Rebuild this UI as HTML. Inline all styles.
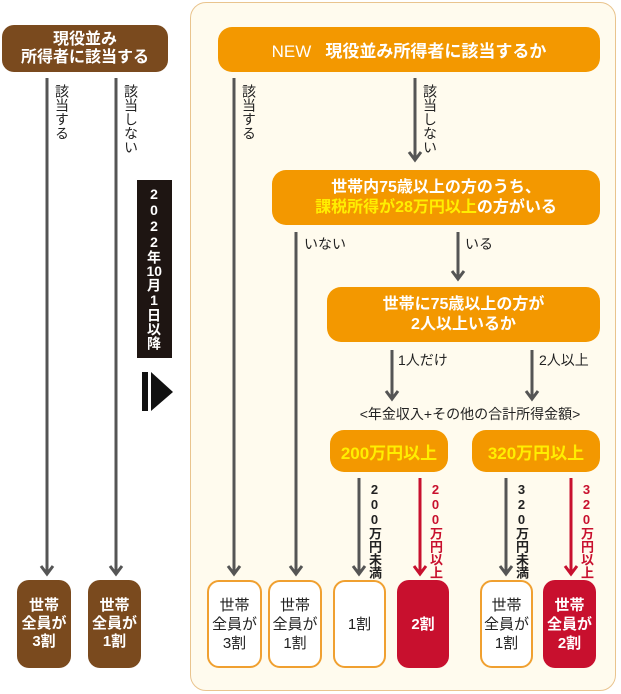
<!DOCTYPE html>
<html><head><meta charset="utf-8"><style>
body{margin:0;width:621px;height:694px;background:#fff;position:relative;overflow:hidden;font-family:"Liberation Sans","Noto Sans CJK JP",sans-serif;}
.a{position:absolute;box-sizing:border-box;}
.box{position:absolute;box-sizing:border-box;display:flex;align-items:center;justify-content:center;text-align:center;font-weight:bold;color:#fff;}
.or{background:#f39800;border-radius:14px;}
.br{background:#7a4a1e;border-radius:12px;font-size:15px;line-height:18px;}
.wh{background:#fff;border:2.5px solid #f0a030;border-radius:12px;color:#222;font-size:15px;line-height:19px;}
.rd{background:#c8102e;border-radius:12px;color:#fff;font-size:15px;line-height:19px;}
.v{position:absolute;writing-mode:vertical-rl;text-orientation:upright;font-size:14px;line-height:16px;color:#222;}
.t{position:absolute;font-size:13px;color:#222;}
.y{color:#ffee00;}
</style></head><body>
<div class="a" style="left:190px;top:2px;width:426px;height:689px;background:#fffbee;border:1.5px solid #e9c48e;border-radius:16px;"></div>
<svg class="a" style="left:0;top:0" width="621" height="694">
<g stroke="#555" stroke-width="3" fill="none">
<path d="M47 78 V574 M41 566 L47 574 L53 566"/>
<path d="M116 78 V574 M110 566 L116 574 L122 566"/>
<path d="M234 78 V574 M228 566 L234 574 L240 566"/>
<path d="M415 78 V160 M409 152 L415 160 L421 152"/>
<path d="M296 232 V574 M290 566 L296 574 L302 566"/>
<path d="M458 232 V279 M452 271 L458 279 L464 271"/>
<path d="M392 350 V399 M386 391 L392 399 L398 391"/>
<path d="M532 350 V399 M526 391 L532 399 L538 391"/>
<path d="M359 478 V574 M353 566 L359 574 L365 566"/>
<path d="M506 478 V574 M500 566 L506 574 L512 566"/>
</g>
<g stroke="#c8102e" stroke-width="3" fill="none">
<path d="M420 478 V574 M414 566 L420 574 L426 566"/>
<path d="M571 478 V574 M565 566 L571 574 L577 566"/>
</g>
<rect x="142" y="372" width="6" height="39" fill="#111"/>
<path d="M151 372 L173 392 L151 411 Z" fill="#111"/>
</svg>
<div class="box br" style="left:2px;top:25px;width:166px;height:47px;font-size:16px;line-height:18px;"><div>現役並み<br>所得者に該当する</div></div>
<div class="v" style="left:54px;top:84px;">該当する</div>
<div class="v" style="left:123px;top:84px;">該当しない</div>
<div class="a" style="left:137px;top:180px;width:35px;height:178px;background:#1e1512;"></div>
<div class="v" style="left:145px;top:186px;color:#fff;font-weight:bold;font-size:14px;line-height:18px;">2022年<span style="text-combine-upright:all">10</span>月1日以降</div>
<div class="box br" style="left:17px;top:580px;width:54px;height:88px;"><div>世帯<br>全員が<br>3割</div></div>
<div class="box br" style="left:88px;top:580px;width:53px;height:88px;"><div>世帯<br>全員が<br>1割</div></div>

<div class="box or" style="left:218px;top:27px;width:382px;height:45px;font-size:17px;font-weight:normal;"><div>NEW&nbsp;&nbsp;&nbsp;<b>現役並み所得者に該当するか</b></div></div>
<div class="v" style="left:241px;top:84px;">該当する</div>
<div class="v" style="left:422px;top:84px;">該当しない</div>
<div class="box or" style="left:272px;top:170px;width:328px;height:55px;font-size:16px;line-height:20px;"><div>世帯内75歳以上の方のうち、<br><span class="y">課税所得が28万円以上</span>の方がいる</div></div>
<div class="t" style="left:304px;top:234px;font-size:14px;">いない</div>
<div class="t" style="left:465px;top:234px;font-size:14px;">いる</div>
<div class="box or" style="left:327px;top:287px;width:273px;height:55px;font-size:16px;line-height:20px;"><div>世帯に75歳以上の方が<br>2人以上いるか</div></div>
<div class="t" style="left:398px;top:350px;font-size:14px;">1人だけ</div>
<div class="t" style="left:539px;top:350px;font-size:14px;">2人以上</div>
<div class="t" style="left:335px;top:404px;width:270px;text-align:center;font-size:14px;">&lt;年金収入+その他の合計所得金額&gt;</div>
<div class="box or" style="left:330px;top:430px;width:118px;height:42px;font-size:17px;"><span class="y">200万円以上</span></div>
<div class="box or" style="left:472px;top:430px;width:128px;height:42px;font-size:17px;"><span class="y">320万円以上</span></div>
<div class="v" style="left:367px;top:482px;font-weight:bold;line-height:14px;font-size:13px;">200万円未満</div>
<div class="v" style="left:428px;top:482px;font-weight:bold;color:#c8102e;line-height:14px;font-size:13px;">200万円以上</div>
<div class="v" style="left:514px;top:482px;font-weight:bold;line-height:14px;font-size:13px;">320万円未満</div>
<div class="v" style="left:579px;top:482px;font-weight:bold;color:#c8102e;line-height:14px;font-size:13px;">320万円以上</div>

<div class="box wh" style="left:207px;top:580px;width:55px;height:88px;font-weight:normal;"><div>世帯<br>全員が<br>3割</div></div>
<div class="box wh" style="left:268px;top:580px;width:54px;height:88px;font-weight:normal;"><div>世帯<br>全員が<br>1割</div></div>
<div class="box wh" style="left:333px;top:580px;width:53px;height:88px;font-weight:normal;"><div>1割</div></div>
<div class="box rd" style="left:397px;top:580px;width:52px;height:88px;"><div>2割</div></div>
<div class="box wh" style="left:480px;top:580px;width:53px;height:88px;font-weight:normal;"><div>世帯<br>全員が<br>1割</div></div>
<div class="box rd" style="left:543px;top:580px;width:53px;height:88px;"><div>世帯<br>全員が<br>2割</div></div>
</body></html>
